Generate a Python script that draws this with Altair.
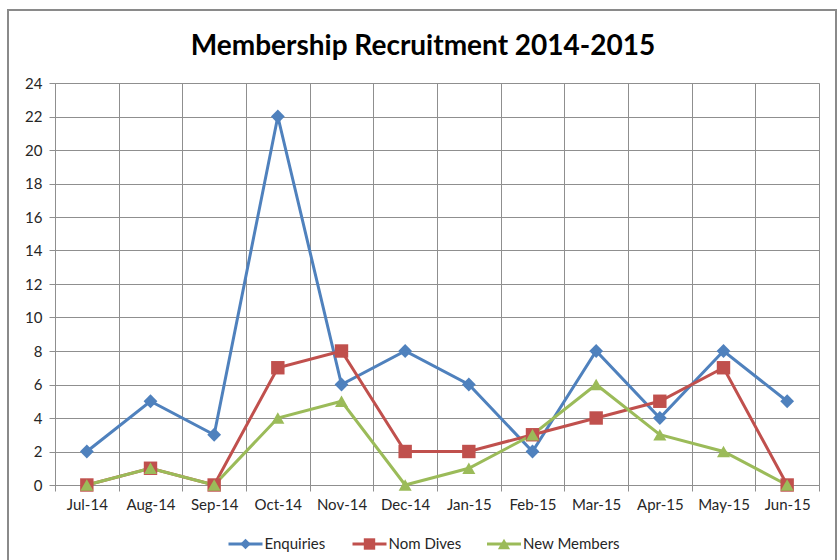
import altair as alt
import pandas as pd

months = ["Jul-14", "Aug-14", "Sep-14", "Oct-14", "Nov-14", "Dec-14",
          "Jan-15", "Feb-15", "Mar-15", "Apr-15", "May-15", "Jun-15"]
enquiries = [2, 5, 3, 22, 6, 8, 6, 2, 8, 4, 8, 5]
nom_dives = [0, 1, 0, 7, 8, 2, 2, 3, 4, 5, 7, 0]
new_members = [0, 1, 0, 4, 5, 0, 1, 3, 6, 3, 2, 0]

series_names = ["Enquiries", "Nom Dives", "New Members"]
series_values = [enquiries, nom_dives, new_members]
colors = ["#4F81BD", "#C0504D", "#9BBB59"]

rows = []
for name, vals in zip(series_names, series_values):
    for m, v in zip(months, vals):
        rows.append({"month": m, "series": name, "value": v})
df = pd.DataFrame(rows)
legend_df = pd.DataFrame({"series": series_names})

W, H = 764, 402
FONT = "Lato"
GRID = "#8f8f8f"
TXT = "#262626"
FS = 15

x_scale = alt.Scale(type="band", domain=months, paddingInner=0, paddingOuter=0)
y_scale = alt.Scale(domain=[0, 24], nice=False)
color_scale = alt.Scale(domain=series_names, range=colors)
shape_scale = alt.Scale(domain=series_names, range=["diamond", "square", "triangle-up"])
size_scale = alt.Scale(domain=series_names, range=[190, 170, 270])

x_axis = alt.Axis(
    tickBand="extent",
    labelAngle=0,
    grid=True,
    gridColor=GRID,
    tickColor=GRID,
    tickSize=6,
    domainColor=GRID,
    labelFont=FONT,
    labelFontSize=FS,
    labelColor=TXT,
    labelPadding=6,
    labelOverlap=False,
    title=None,
)
y_axis = alt.Axis(
    values=list(range(0, 25, 2)),
    grid=True,
    gridColor=GRID,
    tickColor=GRID,
    tickSize=6,
    domainColor=GRID,
    labelFont=FONT,
    labelFontSize=FS,
    labelColor=TXT,
    labelPadding=7,
    labelOverlap=False,
    title=None,
)


def x_enc():
    return alt.X("month:O", scale=x_scale, bandPosition=0.5, axis=x_axis)


def y_enc():
    return alt.Y("value:Q", scale=y_scale, axis=y_axis)


base = alt.Chart(df)

lines = base.mark_line(strokeWidth=3).encode(
    x=x_enc(),
    y=y_enc(),
    color=alt.Color("series:N", scale=color_scale, legend=None),
    detail="series:N",
)

points = base.mark_point(filled=True, opacity=1).encode(
    x=x_enc(),
    y=y_enc(),
    color=alt.Color("series:N", scale=color_scale, legend=None),
    shape=alt.Shape("series:N", scale=shape_scale, legend=None),
    size=alt.Size("series:N", scale=size_scale, legend=None),
)

plot = alt.layer(lines, points)

# custom legend (line + marker): items placed through a piecewise scale
lx_scale = alt.Scale(domain=[0, 1, 2], range=[190.5, 314.5, 449])
names_expr = "[" + ",".join("'%s'" % s for s in series_names) + "]"
lg = alt.Chart(legend_df).transform_calculate(li="indexof(%s, datum.series)" % names_expr)
LY = 461
leg_line = lg.mark_rule(strokeWidth=3, xOffset=-17, x2Offset=17).encode(
    x=alt.X("li:Q", scale=lx_scale, axis=None),
    x2="li:Q",
    y=alt.value(LY),
    color=alt.Color("series:N", scale=color_scale, legend=None),
)
leg_pt = lg.mark_point(filled=True, opacity=1).encode(
    x=alt.X("li:Q", scale=lx_scale, axis=None),
    y=alt.value(LY),
    color=alt.Color("series:N", scale=color_scale, legend=None),
    shape=alt.Shape("series:N", scale=shape_scale, legend=None),
    size=alt.Size("series:N", scale=alt.Scale(domain=series_names, range=[110, 150, 220]), legend=None),
)
leg_txt = lg.mark_text(align="left", baseline="middle", dx=19, font=FONT, fontSize=FS, color=TXT).encode(
    x=alt.X("li:Q", scale=lx_scale, axis=None),
    y=alt.value(LY),
    text="series:N",
)
legend_layer = alt.layer(leg_line, leg_pt, leg_txt)

frame = alt.Chart(pd.DataFrame({"k": [0]})).mark_rect(
    fill=None, filled=False, stroke="#8a8a8a", strokeWidth=2
).encode(
    x=alt.value(-47), x2=alt.value(781), y=alt.value(-73), y2=alt.value(600)
)

chart = alt.layer(frame, plot, legend_layer).resolve_scale(
    x="independent", size="independent"
).properties(
    width=W,
    height=H,
    title=alt.Title(
        "Membership Recruitment 2014-2015",
        font=FONT,
        fontSize=28,
        fontWeight="bold",
        color="#000000",
        anchor="middle",
        dx=-14,
        offset=-52,
    ),
    autosize=alt.AutoSizeParams(type="none"),
    padding={"left": 55, "top": 83, "right": 20, "bottom": 75},
).configure_view(stroke=GRID).configure(background="white")

chart.save("out.html", embed_options={"renderer": "svg", "actions": False})
